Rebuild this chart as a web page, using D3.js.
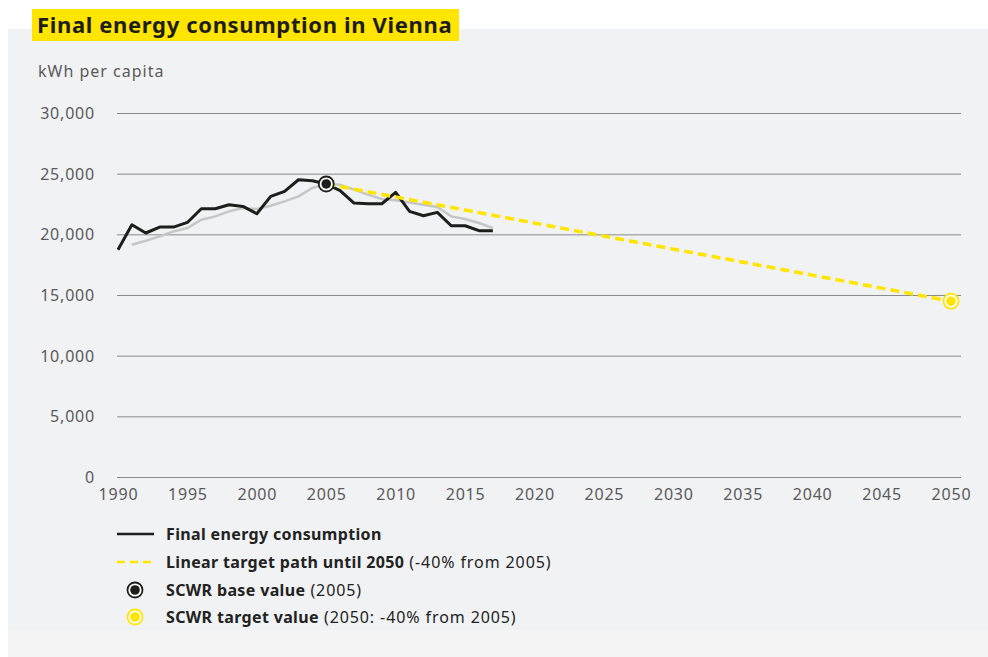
<!DOCTYPE html>
<html>
<head>
<meta charset="utf-8">
<script src="https://cdn.jsdelivr.net/npm/d3@7"></script>
<style>
  body { margin: 0; background: #fff; }
  svg { display: block; font-family: 'Noto Sans', sans-serif; }
</style>
</head>
<body>
<svg id="chart" width="988" height="657"></svg>
<script>
'use strict';

// data
var years = d3.range(1990, 2018);
var consumption = [18730, 20790, 20110, 20600, 20600, 20980, 22110, 22110, 22440, 22300,
	21700, 23130, 23540, 24500, 24420, 24150, 23600, 22580, 22520, 22520,
	23460, 21890, 21530, 21810, 20710, 20710, 20300, 20300];
var trendYears = d3.range(1991, 2018);
var trend = [19140, 19470, 19830, 20240, 20520, 21200, 21480, 21890, 22170, 22090,
	22360, 22720, 23130, 23820, 24150, 24090, 23680, 23270, 22910, 22800,
	22630, 22440, 22250, 21480, 21260, 20930, 20520];
var baseYear = 2005;
var baseValue = 24150;
var targetYear = 2050;
var targetValue = 14490;
var yTicks = [0, 5000, 10000, 15000, 20000, 25000, 30000];
var xTicks = d3.range(1990, 2051, 5);

var BLACK = '#1d1d1b';
var YELLOW = '#ffe500';
var GREY_LINE = '#c6c6c6';
var GRID = '#8a8a8a';
var TEXT = '#5a5a5a';
var FONT = "'Noto Sans', sans-serif";

var svg = d3.select('#chart');

// panel
svg.append('rect').attr('x', 8).attr('y', 29).attr('width', 980).attr('height', 628).attr('fill', '#f4f4f5');
svg.append('rect').attr('x', 8).attr('y', 29).attr('width', 980).attr('height', 601).attr('fill', '#f1f2f4');

// title
svg.append('rect').attr('x', 32).attr('y', 9).attr('width', 427).attr('height', 32).attr('fill', YELLOW);
svg.append('text')
	.attr('x', 37).attr('y', 33)
	.attr('font-size', 22).attr('font-weight', 700).attr('fill', BLACK)
	.attr('letter-spacing', 0.65)
	.text('Final energy consumption in Vienna');

svg.append('text')
	.attr('x', 38).attr('y', 77)
	.attr('font-size', 16).attr('fill', TEXT).attr('letter-spacing', 1)
	.text('kWh per capita');

var x = d3.scaleLinear().domain([1990, 2050]).range([118, 951]);
var y = d3.scaleLinear().domain([0, 30000]).range([477, 113]);

// grid + y axis
var yAxis = svg.append('g')
	.attr('transform', 'translate(117,0)')
	.call(d3.axisLeft(y).tickValues(yTicks).tickSize(-844).tickPadding(22)
		.tickFormat(d3.format(',')));
yAxis.select('.domain').remove();
yAxis.selectAll('.tick line').attr('stroke', GRID).attr('stroke-width', 1);
yAxis.selectAll('.tick text').attr('fill', TEXT).attr('font-size', 16)
	.attr('font-family', FONT).attr('letter-spacing', 0.8).attr('dy', '0.35em');

var xAxis = svg.append('g')
	.attr('transform', 'translate(0,477)')
	.call(d3.axisBottom(x).tickValues(xTicks).tickSize(0).tickPadding(12)
		.tickFormat(d3.format('d')));
xAxis.select('.domain').remove();
xAxis.selectAll('.tick text').attr('fill', TEXT).attr('font-size', 16)
	.attr('font-family', FONT).attr('letter-spacing', 0.8);

// lines
var line = d3.line().x(function(d) { return x(d[0]); }).y(function(d) { return y(d[1]); });

svg.append('path')
	.datum(d3.zip(trendYears, trend))
	.attr('d', line)
	.attr('fill', 'none').attr('stroke', GREY_LINE).attr('stroke-width', 2.5);

svg.append('path')
	.datum(d3.zip(years, consumption))
	.attr('d', line)
	.attr('fill', 'none').attr('stroke', BLACK).attr('stroke-width', 3)
	.attr('stroke-linejoin', 'round');

svg.append('path')
	.datum([[baseYear, baseValue], [targetYear, targetValue]])
	.attr('d', line)
	.attr('fill', 'none').attr('stroke', YELLOW).attr('stroke-width', 3.5)
	.attr('stroke-dasharray', '9,5');

function marker(g, cx, cy, color) {
	g.append('circle').attr('cx', cx).attr('cy', cy).attr('r', 7.5)
		.attr('fill', '#fff').attr('stroke', color).attr('stroke-width', 1.8);
	g.append('circle').attr('cx', cx).attr('cy', cy).attr('r', 4.8).attr('fill', color);
}

marker(svg, x(baseYear), y(baseValue), BLACK);
marker(svg, x(targetYear), y(targetValue), YELLOW);

// legend
var legend = svg.append('g').attr('font-size', 16).attr('fill', '#222');
var rows = [534, 562, 590, 617];

legend.append('line').attr('x1', 117).attr('x2', 154).attr('y1', rows[0]).attr('y2', rows[0])
	.attr('stroke', BLACK).attr('stroke-width', 2.5);
legend.append('line').attr('x1', 117).attr('x2', 154).attr('y1', rows[1]).attr('y2', rows[1])
	.attr('stroke', YELLOW).attr('stroke-width', 2.5).attr('stroke-dasharray', '8,5');
marker(legend, 135, rows[2], BLACK);
marker(legend, 135, rows[3], YELLOW);

var labels = [
	['Final energy consumption', ''],
	['Linear target path until 2050', ' (-40% from 2005)'],
	['SCWR base value', ' (2005)'],
	['SCWR target value', ' (2050: -40% from 2005)']
];
labels.forEach(function(l, i) {
	var t = legend.append('text').attr('x', 166).attr('y', rows[i]).attr('dy', '0.35em');
	t.append('tspan').attr('font-weight', 700).attr('letter-spacing', 0.35).text(l[0]);
	t.append('tspan').attr('letter-spacing', 0.9).text(l[1]);
});
</script>
</body>
</html>
